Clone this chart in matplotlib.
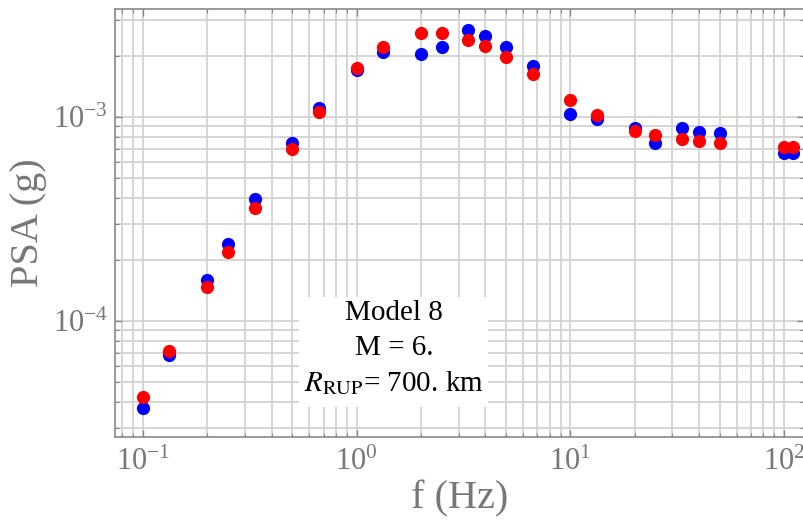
import numpy as np
import matplotlib
matplotlib.use("Agg")
import matplotlib.pyplot as plt
from matplotlib.patches import Rectangle
from matplotlib.ticker import LogLocator

plt.rcParams['font.family'] = ['Liberation Serif', 'DejaVu Serif']
plt.rcParams['mathtext.fontset'] = 'stix'

# spectral frequencies (Hz) and response spectra (g)
freq = [0.1, 0.133, 0.2, 0.25, 0.333, 0.5, 0.667, 1.0, 1.333, 2.0, 2.5,
        3.333, 4.0, 5.0, 6.667, 10.0, 13.33, 20.0, 25.0, 33.33, 40.0, 50.0,
        100.0, 110.0]
psa_blue = [3.73e-5, 6.81e-5, 1.59e-4, 2.38e-4, 3.95e-4, 7.43e-4, 1.10e-3,
            1.70e-3, 2.09e-3, 2.04e-3, 2.21e-3, 2.67e-3, 2.48e-3, 2.20e-3,
            1.78e-3, 1.03e-3, 9.8e-4, 8.8e-4, 7.49e-4, 8.8e-4, 8.47e-4,
            8.32e-4, 6.64e-4, 6.64e-4]
psa_red = [4.26e-5, 7.15e-5, 1.46e-4, 2.17e-4, 3.56e-4, 6.95e-4, 1.06e-3,
           1.73e-3, 2.20e-3, 2.57e-3, 2.57e-3, 2.38e-3, 2.23e-3, 1.96e-3,
           1.62e-3, 1.21e-3, 1.02e-3, 8.57e-4, 8.16e-4, 7.78e-4, 7.65e-4,
           7.49e-4, 7.10e-4, 7.10e-4]

info_lines = ["Model 8", "M = 6.", r"$R_{\mathrm{RUP}}$= 700. km"]

gray = '#777777'
fig = plt.figure(figsize=(8.04, 5.23), dpi=100)
ax = fig.add_axes([0.143, 0.1644, 0.857, 0.8184])

ax.set_xscale('log')
ax.set_yscale('log')
ax.set_xlim(10 ** -1.131, 10 ** 2.0936)
ax.set_ylim(10 ** -4.569, 10 ** -2.471)

ax.xaxis.set_major_locator(LogLocator(base=10))
ax.xaxis.set_minor_locator(LogLocator(base=10, subs=np.arange(2, 10)))
ax.yaxis.set_major_locator(LogLocator(base=10))
ax.yaxis.set_minor_locator(LogLocator(base=10, subs=np.arange(2, 10)))

ax.set_axisbelow(True)
ax.grid(True, which='both', color='#d2d2d2', lw=1.3)

ax.plot(freq, psa_blue, 'o', color='#0000ff', ms=9.5, mec='none', zorder=4)
ax.plot(freq, psa_red, 'o', color='#ff0000', ms=9.5, mec='none', zorder=5)

# white inset behind the annotation
ax.add_patch(Rectangle((0.2670, 0.070), 0.2750, 0.2570, transform=ax.transAxes,
                       facecolor='white', edgecolor='none', zorder=1.5))
for k, line in enumerate(info_lines):
    ax.text(0.405, 0.289 - k * 0.082, line, transform=ax.transAxes,
            ha='center', va='center', fontsize=21, color='black', zorder=3)

for sp in ax.spines.values():
    sp.set_color('#888888')
    sp.set_linewidth(1.2)

ax.tick_params(which='both', direction='in', top=True, right=True,
               color='#888888', labelcolor=gray, labelsize=22)
ax.tick_params(which='major', length=5, width=1)
ax.tick_params(which='minor', length=3, width=0.8)
ax.tick_params(axis='x', pad=8)
ax.tick_params(axis='y', pad=5)

ax.set_xlabel('f (Hz)', fontsize=29, color=gray, labelpad=2)
ax.set_ylabel('PSA (g)', fontsize=29, color=gray, labelpad=4)

fig.savefig('out.png', dpi=100, facecolor='white')
